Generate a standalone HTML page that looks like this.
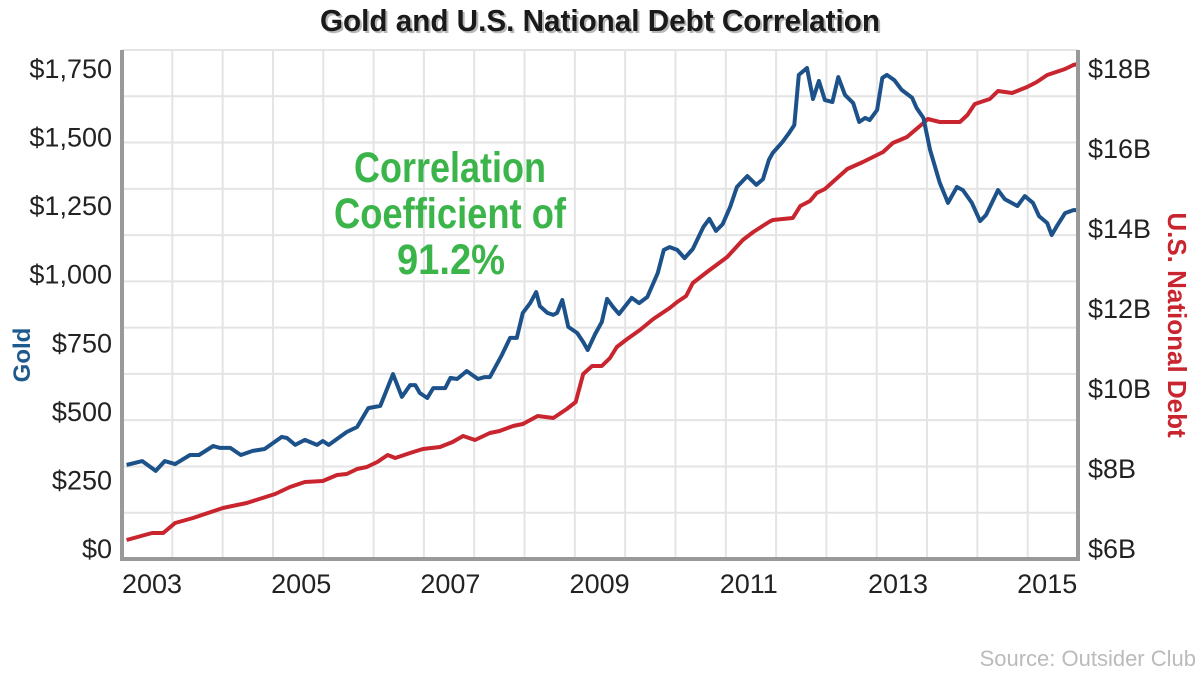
<!DOCTYPE html>
<html><head><meta charset="utf-8"><style>
html,body{margin:0;padding:0;background:#fff;width:1200px;height:675px;overflow:hidden}
svg{display:block}
text{font-family:"Liberation Sans Narrow","Liberation Sans",sans-serif}
</style></head><body>
<svg id="chart" width="1200" height="675" viewBox="0 0 1200 675" xmlns="http://www.w3.org/2000/svg">
<g id="grid"></g>
<text x="602" y="33" text-anchor="middle" font-size="31" font-weight="bold" fill="#999" opacity="0.7" textLength="560" lengthAdjust="spacingAndGlyphs">Gold and U.S. National Debt Correlation</text>
<text x="600" y="31" text-anchor="middle" font-size="31" font-weight="bold" fill="#1a1a1a" textLength="560" lengthAdjust="spacingAndGlyphs">Gold and U.S. National Debt Correlation</text>
<g font-size="43" font-weight="bold" fill="#3bb54a" text-anchor="middle">
<text x="450" y="182" textLength="192" lengthAdjust="spacingAndGlyphs">Correlation</text>
<text x="450" y="228" textLength="232" lengthAdjust="spacingAndGlyphs">Coefficient of</text>
<text x="451" y="274" textLength="108" lengthAdjust="spacingAndGlyphs">91.2%</text>
</g>
<g id="series"></g>
<g id="axes"></g>
<text transform="translate(30,355) rotate(-90)" text-anchor="middle" font-size="24" font-weight="bold" fill="#1f5a8f">Gold</text>
<text transform="translate(1168,325) rotate(90)" text-anchor="middle" font-size="26" font-weight="bold" fill="#c8252f">U.S. National Debt</text>
<text x="1196" y="666" text-anchor="end" font-size="22" fill="#bbb">Source: Outsider Club</text>
</svg>
<script>
const goldDates=[2002.66,2002.87,2003.05,2003.17,2003.31,2003.51,2003.63,2003.82,2003.91,2004.05,2004.19,2004.35,2004.51,2004.74,2004.81,2004.92,2005.05,2005.21,2005.29,2005.37,2005.61,2005.75,2005.90,2006.06,2006.23,2006.35,2006.46,2006.53,2006.59,2006.69,2006.77,2006.93,2007.00,2007.09,2007.22,2007.37,2007.46,2007.53,2007.69,2007.80,2007.89,2007.97,2008.07,2008.15,2008.20,2008.30,2008.38,2008.43,2008.50,2008.58,2008.70,2008.78,2008.84,2008.94,2009.03,2009.10,2009.18,2009.26,2009.43,2009.53,2009.64,2009.78,2009.86,2009.94,2010.04,2010.14,2010.25,2010.39,2010.47,2010.56,2010.65,2010.75,2010.84,2010.98,2011.10,2011.19,2011.27,2011.32,2011.45,2011.53,2011.61,2011.67,2011.78,2011.86,2011.94,2012.02,2012.12,2012.20,2012.29,2012.40,2012.48,2012.56,2012.62,2012.72,2012.79,2012.85,2012.95,2013.05,2013.19,2013.25,2013.34,2013.43,2013.56,2013.67,2013.79,2013.87,2013.99,2014.10,2014.18,2014.34,2014.43,2014.60,2014.70,2014.81,2014.89,2015.00,2015.06,2015.14,2015.24,2015.35,2015.41];
const goldValues=[303,317,281,317,306,339,339,372,365,365,339,354,361,405,401,376,394,376,390,376,423,441,510,518,634,551,594,594,565,547,583,583,620,616,645,616,623,623,704,766,766,857,893,933,882,857,850,857,904,806,784,751,722,780,824,908,879,853,912,893,915,1003,1087,1097,1087,1057,1090,1170,1200,1156,1181,1243,1316,1356,1324,1345,1415,1440,1480,1509,1542,1725,1750,1637,1703,1633,1626,1717,1652,1622,1553,1568,1560,1597,1714,1725,1706,1670,1641,1604,1568,1451,1331,1258,1316,1305,1258,1192,1214,1305,1272,1247,1283,1258,1210,1185,1141,1178,1221,1232,1232];
const debtDates=[2002.66,2003.00,2003.15,2003.31,2003.55,2003.95,2004.27,2004.65,2004.85,2005.05,2005.29,2005.48,2005.61,2005.75,2005.88,2006.02,2006.16,2006.26,2006.46,2006.63,2006.86,2007.03,2007.17,2007.33,2007.53,2007.66,2007.84,2007.97,2008.17,2008.38,2008.56,2008.68,2008.78,2008.90,2009.03,2009.14,2009.23,2009.37,2009.54,2009.72,2009.94,2010.04,2010.16,2010.25,2010.44,2010.71,2010.92,2011.06,2011.27,2011.32,2011.59,2011.69,2011.82,2011.91,2012.02,2012.32,2012.53,2012.80,2012.93,2013.12,2013.34,2013.40,2013.56,2013.83,2013.93,2014.03,2014.23,2014.34,2014.53,2014.73,2014.86,2015.00,2015.24,2015.35,2015.41];
const debtValues=[6.20,6.375,6.375,6.625,6.75,7.00,7.125,7.35,7.525,7.65,7.675,7.825,7.85,7.975,8.025,8.15,8.325,8.25,8.375,8.475,8.525,8.65,8.8,8.7,8.875,8.925,9.05,9.1,9.3,9.25,9.475,9.65,10.35,10.55,10.55,10.75,11.025,11.225,11.45,11.725,12.0,12.15,12.3,12.625,12.9,13.275,13.7,13.9,14.15,14.2,14.25,14.55,14.675,14.875,14.975,15.475,15.65,15.9,16.125,16.275,16.625,16.725,16.65,16.65,16.825,17.1,17.225,17.425,17.375,17.525,17.65,17.825,17.975,18.075,18.1];
const goldTicks=[0,250,500,750,1000,1250,1500,1750];
const goldTickLabels=["$0","$250","$500","$750","$1,000","$1,250","$1,500","$1,750"];
const debtTicks=[6,8,10,12,14,16,18];
const debtTickLabels=["$6B","$8B","$10B","$12B","$14B","$16B","$18B"];
const yearTicks=[2003,2005,2007,2009,2011,2013,2015];

const NS="http://www.w3.org/2000/svg";
const L=122,R=1078,T=50,B=559;
function xScale(t){return 152+(t-2003)*74.6;}
function yGold(v){return 548-v*(480/1750);}
function yDebt(v){return 548-(v-6)*40;}
function mk(tag,attrs,parent){const e=document.createElementNS(NS,tag);for(const k in attrs)e.setAttribute(k,attrs[k]);parent.appendChild(e);return e;}

const grid=document.getElementById('grid');
for(let i=1;i<19;i++){const x=L+i*(R-L)/19;
 const ln=mk('line',{x1:x,x2:x,y1:T,y2:B,stroke:'#e4e4e4','stroke-width':2},grid);
 
 }
for(let i=0;i<11;i++){const y=T+i*(B-T)/11;
 const ln=mk('line',{x1:L,x2:R,y1:y,y2:y,stroke:'#e4e4e4','stroke-width':2},grid);
 
 }

const series=document.getElementById('series');
const dpts=debtDates.map((t,i)=>xScale(t).toFixed(1)+','+yDebt(debtValues[i]).toFixed(1)).join(' ');
const dl=mk('polyline',{points:dpts,fill:'none',stroke:'#c8252f','stroke-width':4,'stroke-linejoin':'round'},series);


const gpts=goldDates.map((t,i)=>xScale(t).toFixed(1)+','+yGold(goldValues[i]).toFixed(1)).join(' ');
const gl=mk('polyline',{points:gpts,fill:'none',stroke:'#1c5289','stroke-width':4,'stroke-linejoin':'round'},series);



const axes=document.getElementById('axes');
const ax=mk('path',{d:`M${L},${T} V${B} H${R} V${T}`,fill:'none',stroke:'#999','stroke-width':4},axes);


goldTicks.forEach((v,i)=>{
 const t=mk('text',{x:112,y:yGold(v)+10,'text-anchor':'end','font-size':27,fill:'#222'},axes);
 t.textContent=goldTickLabels[i];
 
 });
debtTicks.forEach((v,i)=>{
 const t=mk('text',{x:1088,y:yDebt(v)+10,'text-anchor':'start','font-size':27,fill:'#222'},axes);
 t.textContent=debtTickLabels[i];
 
 });
yearTicks.forEach(y=>{
 const t=mk('text',{x:xScale(y),y:593,'text-anchor':'middle','font-size':27,fill:'#222'},axes);
 t.textContent=String(y);
 
 });
</script>
</body></html>
